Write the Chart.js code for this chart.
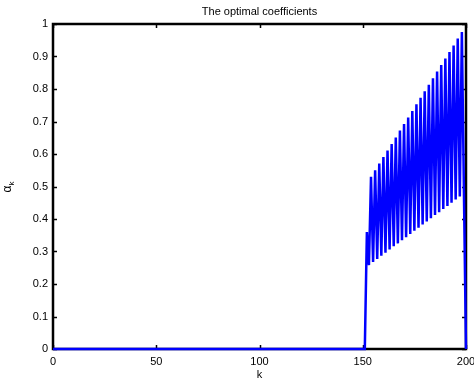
<!DOCTYPE html>
<html>
<head>
<meta charset="utf-8">
<script src="https://cdn.jsdelivr.net/npm/chart.js@4.4.1/dist/chart.umd.min.js"></script>
<style>
  html, body { margin: 0; padding: 0; background: #fff; }
  #wrap { width: 474px; height: 383px; }
</style>
</head>
<body>
<div id="wrap"><canvas id="coefChart" width="474" height="383"></canvas></div>
<script>
// k index and coefficient value (zero from k=0 up to k=151)
const kValues = [0, 151,
    152, 153, 154, 155, 156, 157, 158, 159, 160, 161, 162, 163, 164, 165,
    166, 167, 168, 169, 170, 171, 172, 173, 174, 175, 176, 177, 178, 179,
    180, 181, 182, 183, 184, 185, 186, 187, 188, 189, 190, 191, 192, 193,
    194, 195, 196, 197, 198, 199, 200];
const alphaValues = [0, 0,
    0.360, 0.258, 0.530, 0.268, 0.550, 0.277, 0.571, 0.287, 0.591, 0.296, 0.611, 0.306, 0.631, 0.316,
    0.651, 0.325, 0.672, 0.335, 0.692, 0.344, 0.712, 0.354, 0.732, 0.364, 0.753, 0.373, 0.773, 0.383,
    0.793, 0.392, 0.813, 0.402, 0.833, 0.412, 0.854, 0.421, 0.874, 0.431, 0.894, 0.440, 0.914, 0.450,
    0.934, 0.460, 0.955, 0.469, 0.975, 0.479, 0];
const xTicks = [0, 50, 100, 150, 200];
const yTicks = [0, 0.1, 0.2, 0.3, 0.4, 0.5, 0.6, 0.7, 0.8, 0.9, 1];

const titleText = 'The optimal coefficients';
const xLabel = 'k';
const FONT = '"Liberation Sans", Arial, Helvetica, sans-serif';

const points = kValues.map((k, i) => ({ x: k, y: alphaValues[i] }));

// MATLAB-like box with inward ticks, plus title and axis labels
const matlabFrame = {
    id: 'matlabFrame',
    beforeDatasetsDraw(chart) {
        const { ctx, chartArea: a, scales } = chart;
        ctx.save();
        ctx.strokeStyle = '#000';
        ctx.lineWidth = 1.5;
        const len = 4;
        ctx.beginPath();
        xTicks.forEach(v => {
            const px = Math.round(scales.x.getPixelForValue(v)) + 0.5;
            ctx.moveTo(px, a.bottom); ctx.lineTo(px, a.bottom - len);
            ctx.moveTo(px, a.top); ctx.lineTo(px, a.top + len);
        });
        yTicks.forEach(v => {
            const py = Math.round(scales.y.getPixelForValue(v)) + 0.5;
            ctx.moveTo(a.left, py); ctx.lineTo(a.left + len, py);
            ctx.moveTo(a.right, py); ctx.lineTo(a.right - len, py);
        });
        ctx.stroke();
        ctx.lineWidth = 2.5;
        ctx.strokeRect(a.left, a.top, a.right - a.left, a.bottom - a.top);
        ctx.restore();
    },
    afterDraw(chart) {
        const { ctx, chartArea: a } = chart;
        const cx = (a.left + a.right) / 2;
        ctx.save();
        ctx.fillStyle = '#000';
        ctx.font = '11px ' + FONT;
        ctx.textAlign = 'center';
        ctx.textBaseline = 'alphabetic';
        ctx.fillText(titleText, cx, 15);
        ctx.fillText(xLabel, cx, 378);

        // y label: alpha with subscript k, rotated
        const cy = (a.top + a.bottom) / 2;
        ctx.translate(11, cy);
        ctx.rotate(-Math.PI / 2);
        ctx.textAlign = 'left';
        ctx.font = '12px ' + FONT;
        ctx.fillText('α', -6, 0);
        ctx.font = '8px ' + FONT;
        ctx.fillText('k', 1, 3);
        ctx.restore();
    }
};

const ctx = document.getElementById('coefChart').getContext('2d');
const coefChart = new Chart(ctx, {
    type: 'scatter',
    data: {
        datasets: [{
            label: 'alpha',
            data: points,
            showLine: true,
            borderColor: '#0000ff',
            backgroundColor: '#0000ff',
            borderWidth: 2.5,
            pointRadius: 0,
            tension: 0,
            clip: false
        }]
    },
    options: {
        responsive: false,
        animation: false,
        layout: { padding: { left: 0, right: 8, top: 24, bottom: 0 } },
        plugins: {
            legend: { display: false },
            tooltip: { enabled: false },
            title: { display: false }
        },
        scales: {
            x: {
                type: 'linear',
                min: 0,
                max: 200,
                grid: { display: false, drawTicks: false },
                border: { display: false },
                afterBuildTicks(scale) { scale.ticks = xTicks.map(v => ({ value: v })); },
                afterFit(scale) { scale.height = 34; scale.paddingLeft = 0; scale.paddingRight = 0; },
                ticks: {
                    color: '#000',
                    font: { family: FONT, size: 11 },
                    padding: 6,
                    maxRotation: 0,
                    autoSkip: false
                }
            },
            y: {
                min: 0,
                max: 1,
                grid: { display: false, drawTicks: false },
                border: { display: false },
                afterBuildTicks(scale) { scale.ticks = yTicks.map(v => ({ value: v })); },
                afterFit(scale) { scale.width = 53; scale.paddingTop = 0; scale.paddingBottom = 0; },
                ticks: {
                    color: '#000',
                    font: { family: FONT, size: 11 },
                    padding: 5,
                    autoSkip: false,
                    callback: v => String(v)
                }
            }
        }
    },
    plugins: [matlabFrame]
});
</script>
</body>
</html>
